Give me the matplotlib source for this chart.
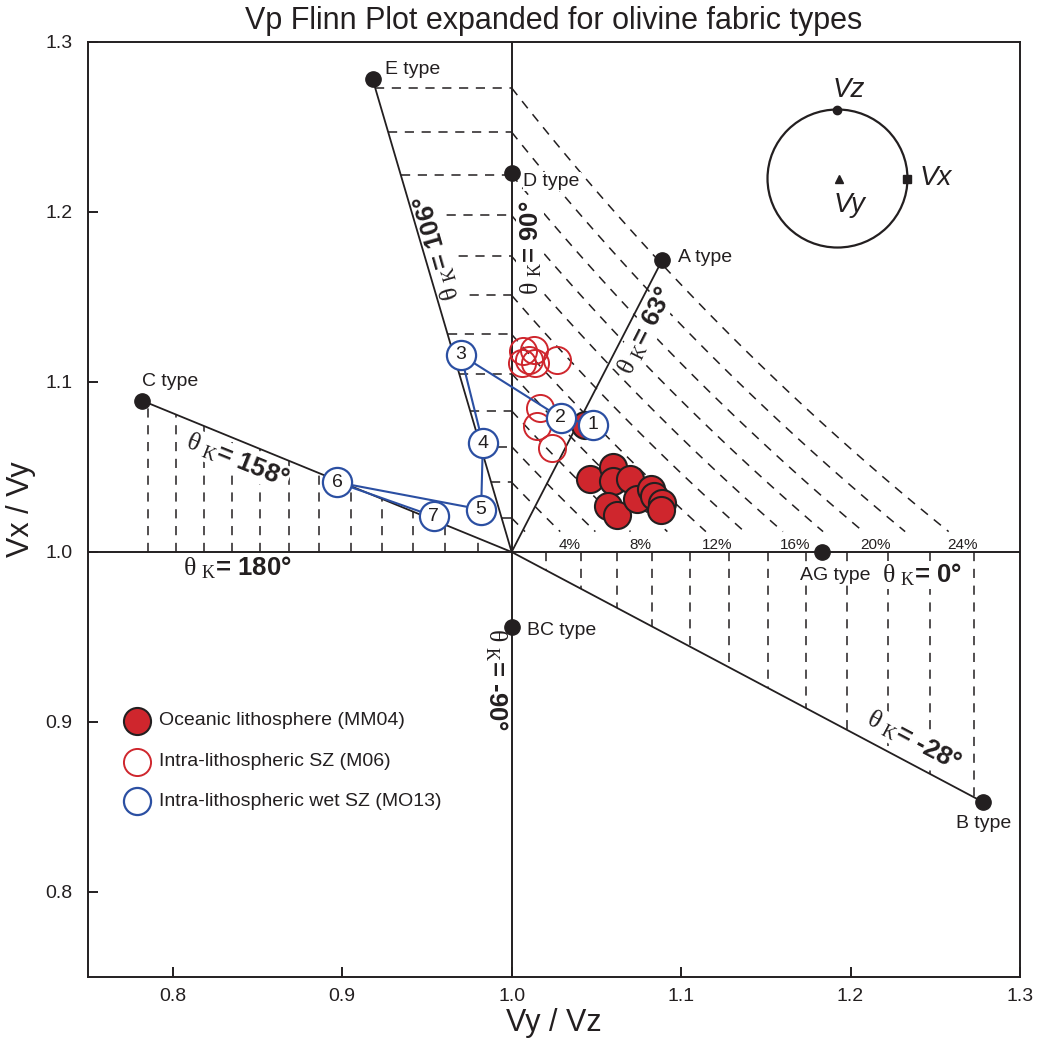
import numpy as np
import matplotlib.pyplot as plt
from matplotlib.patches import Ellipse

plt.rcParams['font.family'] = ['Liberation Sans', 'DejaVu Sans']
plt.rcParams['mathtext.fontset'] = 'custom'
plt.rcParams['mathtext.rm'] = 'Liberation Serif'
plt.rcParams['mathtext.it'] = 'Liberation Serif:italic'
plt.rcParams['mathtext.bf'] = 'Liberation Sans:bold'

# olivine fabric end-members (Vy/Vz, Vx/Vy)
type_names = ['E type', 'D type', 'A type', 'C type', 'AG type', 'BC type', 'B type']
type_x = [0.918, 1.000, 1.089, 0.782, 1.183, 1.000, 1.278]
type_y = [1.278, 1.223, 1.172, 1.089, 1.000, 0.956, 0.853]
label_x = [0.925, 1.007, 1.098, 0.782, 1.170, 1.009, 1.262]
label_y = [1.284, 1.218, 1.173, 1.100, 0.986, 0.954, 0.840]

# anisotropy contours (Vmax / Vmin) every 2 %
aniso_pct = [2, 4, 6, 8, 10, 12, 14, 16, 18, 20, 22, 24]
aniso_ratio = [1.020, 1.041, 1.062, 1.083, 1.105, 1.128,
               1.151, 1.174, 1.198, 1.222, 1.247, 1.273]

# theta_K labels
theta_txt = ['106°', '90°', '63°', '158°', '180°', '0°', '-90°', '-28°']
theta_x = [0.956, 1.011, 1.079, 0.838, 0.838, 1.242, 0.991, 1.237]
theta_y = [1.179, 1.179, 1.130, 1.054, 0.991, 0.9865, 0.925, 0.889]
theta_rot = [106, 90, 63, -22, 0, 0, -90, -28]

# Oceanic lithosphere (MM04)
oceanic_x = [1.043, 1.046, 1.060, 1.060, 1.070, 1.057, 1.062, 1.074, 1.082, 1.084, 1.089, 1.088]
oceanic_y = [1.075, 1.043, 1.050, 1.042, 1.043, 1.027, 1.022, 1.031, 1.037, 1.033, 1.029, 1.025]

# Intra-lithospheric SZ (M06)
sz_x = [1.007, 1.013, 1.010, 1.014, 1.006, 1.027, 1.017, 1.015, 1.024]
sz_y = [1.118, 1.119, 1.113, 1.111, 1.111, 1.113, 1.085, 1.074, 1.061]

# Intra-lithospheric wet SZ (MO13), numbered samples
wet_id = [1, 2, 3, 4, 5, 6, 7]
wet_x = [1.048, 1.029, 0.970, 0.983, 0.982, 0.897, 0.954]
wet_y = [1.075, 1.079, 1.116, 1.064, 1.025, 1.041, 1.021]

red = '#cf262d'
blue = '#2b4fa2'
ink = '#231f20'

fig = plt.figure(figsize=(10.4, 10.41), dpi=100)
ax = fig.add_axes([88 / 1040, 64 / 1041, 932 / 1040, 935 / 1041])
ax.set_xlim(0.75, 1.3)
ax.set_ylim(0.75, 1.3)

dash = dict(color=ink, lw=1.1, ls=(0, (6, 5)), zorder=1)
ex, ey = type_x[0], type_y[0]
cx, cy = type_x[3], type_y[3]
bx, by = type_x[6], type_y[6]
for r, p in zip(aniso_ratio, aniso_pct):
    # quadrant I: Vx/Vz = const
    xs = np.linspace(1.0, r / 1.012, 60)
    ax.plot(xs, r / xs, **dash)
    if p % 4 == 0:
        ax.text(r - 0.007, 1.004, f'{p}%', fontsize=11, ha='center', va='center', color=ink)
    # between E line and D axis
    ax.plot([1 + (r - 1) * (ex - 1) / (ey - 1), 1.0], [r, r], **dash)
    # between C line and 180 axis
    xi = 1 / r
    ax.plot([xi, xi], [1.0, 1 + (xi - 1) * (cy - 1) / (cx - 1)], **dash)
    # between 0 axis and B line
    ax.plot([r, r], [1.0, 1 + (r - 1) * (by - 1) / (bx - 1)], **dash)

ax.axvline(1.0, color=ink, lw=1.4, zorder=3)
ax.axhline(1.0, color=ink, lw=1.4, zorder=3)
for i in [0, 2, 3, 6]:
    ax.plot([1.0, type_x[i]], [1.0, type_y[i]], color=ink, lw=1.3, zorder=3)

ax.plot(type_x, type_y, 'o', ms=11, color=ink, zorder=6)
for name, lx, ly in zip(type_names, label_x, label_y):
    ax.text(lx, ly, name, fontsize=14, ha='left', va='center', color=ink, zorder=4,
            bbox=dict(facecolor='white', edgecolor='none', pad=0.5))

for t, tx, ty, rot in zip(theta_txt, theta_x, theta_y, theta_rot):
    s = r'$\mathrm{\theta}\ {}_{\mathrm{K}}$= ' + t
    ax.text(tx, ty, s, fontsize=18.5, fontweight='bold', rotation=rot, rotation_mode='anchor',
            ha='center', va='center', color=ink, zorder=2,
            bbox=dict(facecolor='white', edgecolor='none', pad=0.5))

# data
ax.plot(oceanic_x, oceanic_y, 'o', ms=19.5, mfc=red, mec=ink, mew=1.5, ls='none', zorder=7)
ax.plot(sz_x, sz_y, 'o', ms=19.5, mfc='none', mec=red, mew=1.4, ls='none', zorder=7)
ax.plot(wet_x, wet_y, color=blue, lw=1.5, zorder=8)
ax.plot(wet_x, wet_y, 'o', ms=21, mfc='white', mec=blue, mew=1.6, ls='none', zorder=9)
for n, wx, wy in zip(wet_id, wet_x, wet_y):
    ax.text(wx, wy, str(n), fontsize=14, ha='center', va='center', color=ink, zorder=10)

# legend
leg_labels = ['Oceanic lithosphere (MM04)', 'Intra-lithospheric SZ (M06)',
              'Intra-lithospheric wet SZ (MO13)']
leg_style = [dict(mfc=red, mec=ink, mew=1.5), dict(mfc='none', mec=red, mew=1.4),
             dict(mfc='none', mec=blue, mew=1.6)]
leg_y = [0.274, 0.230, 0.188]
for lab, st, ly in zip(leg_labels, leg_style, leg_y):
    ax.plot([0.0526], [ly], 'o', ms=19.5, transform=ax.transAxes, **st)
    ax.text(0.076, ly, lab, fontsize=14, ha='left', va='center', color=ink,
            transform=ax.transAxes)

# orientation sketch
ax.add_patch(Ellipse((1.1923, 1.2197), 0.0826, 0.0812, fill=False, ec=ink, lw=1.6, zorder=5))
ax.plot([1.1923], [1.2600], 'o', ms=6, color=ink, zorder=6)
ax.plot([1.2336], [1.2197], 's', ms=6, color=ink, zorder=6)
ax.plot([1.1929], [1.2195], '^', ms=6, color=ink, zorder=6)
ax.text(1.1988, 1.2718, 'Vz', fontsize=20, style='italic', ha='center', va='center', color=ink)
ax.text(1.2501, 1.2200, 'Vx', fontsize=20, style='italic', ha='center', va='center', color=ink)
ax.text(1.1994, 1.2041, 'Vy', fontsize=20, style='italic', ha='center', va='center', color=ink)

ticks = [0.8, 0.9, 1.0, 1.1, 1.2, 1.3]
ax.set_xticks(ticks)
ax.set_yticks(ticks)
ax.set_xticklabels([f'{t:.1f}' for t in ticks])
ax.set_yticklabels([f'{t:.1f}' for t in ticks])
ax.tick_params(direction='in', length=7, width=1.4, labelsize=14, colors=ink)
ax.tick_params(axis='x', pad=8)
ax.tick_params(axis='y', pad=11)
for sp in ax.spines.values():
    sp.set_linewidth(1.4)
    sp.set_color(ink)

ax.set_xlabel('Vy / Vz', fontsize=22, color=ink)
ax.set_ylabel('Vx / Vy', fontsize=22, color=ink)
ax.xaxis.set_label_coords(0.5, -0.033)
ax.yaxis.set_label_coords(-0.056, 0.5)
ax.set_title('Vp Flinn Plot expanded for olivine fabric types', fontsize=22, pad=9, color=ink)

fig.savefig('out.png', dpi=100)
